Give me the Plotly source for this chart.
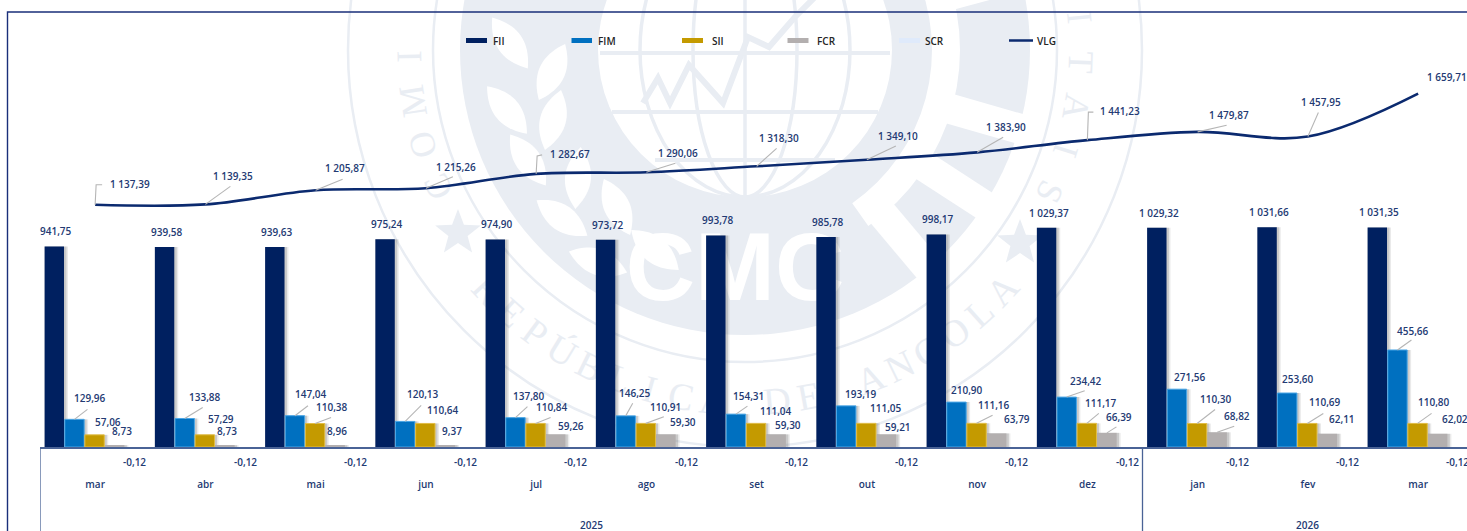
import math
import plotly.graph_objects as go

# ---------- data ----------
months = ["mar", "abr", "mai", "jun", "jul", "ago", "set", "out", "nov", "dez", "jan", "fev", "mar"]
fii = [941.75, 939.58, 939.63, 975.24, 974.90, 973.72, 993.78, 985.78, 998.17, 1029.37, 1029.32, 1031.66, 1031.35]
fim = [129.96, 133.88, 147.04, 120.13, 137.80, 146.25, 154.31, 193.19, 210.90, 234.42, 271.56, 253.60, 455.66]
sii = [57.06, 57.29, 110.38, 110.64, 110.84, 110.91, 111.04, 111.05, 111.16, 111.17, 110.30, 110.69, 110.80]
fcr = [8.73, 8.73, 8.96, 9.37, 59.26, 59.30, 59.30, 59.21, 63.79, 66.39, 68.82, 62.11, 62.02]
scr = [-0.12] * 13
vlg = [1137.39, 1139.35, 1205.87, 1215.26, 1282.67, 1290.06, 1318.30, 1349.10, 1383.90, 1441.23, 1479.87, 1457.95, 1659.71]
years = ["2025", "2026"]

# ---------- style ----------
NAVY, BLUE, GOLD, GREY, PALE = "#002060", "#0070c0", "#c49a00", "#b3afaf", "#dfeafb"
LINE = "#0b2a6f"
TXT = "#233a73"
WM = "#e9edf3"
FONT = "Open Sans, Noto Sans, sans-serif"
W, H = 1467, 531
L, T, B = 40, 12, 84
PX_PER_CAT = 110.25
x_range = [-0.5, (W - L) / PX_PER_CAT - 0.5]
y_range = [0, 2043]

PITCH, BAR_W = 0.1825, 0.176
offsets = [-0.458 + PITCH * k for k in range(5)]

# label offsets (px right, px up) from the mark; leader end or None
fii_lab = [(2, 15)] * 13
fim_lab = [(15.6, 21.6), (20.7, 21), (15.8, 21.7), (18, 27), (13.6, 21.7), (9, 23), (13, 18),
           (14.5, 12), (11, 12), (19.7, 16.4), (12.8, 12), (10.9, 14), (16, 19)]
fim_lead = [(13, 10), (18, 11), (13, 10), (16, 16), (12, 11), (7, 12.6), (11.5, 8),
            None, None, (18, 6.4), None, None, (14, 10)]
sii_lab = [(13.5, 13.2), (16, 15.5), (17.4, 16.5), (17.8, 13), (16.5, 16), (20, 16), (19.7, 12.7),
           (20, 15), (17.5, 18.3), (14, 20.3), (19.4, 24.8), (17.5, 21), (16, 21)]
sii_lead = [None, None, (16, 6), None, (15, 6), (18, 6.7), None, None, (16, 8), (12, 10), (18, 14), (16, 10), (14, 10)]
fcr_lab = [(7.4, 14), (2, 14), (1.6, 14), (7, 14), (15.8, 8.4), (17, 12.7), (12, 9.4),
           (11.7, 7), (20.8, 14), (11.9, 16.2), (20, 16.3), (15, 14.5), (17, 14.5)]
fcr_lead = [None] * 9 + [(9.5, 6), (17, 6), None, None]
scr_lab = [(0, -15)] * 13
vlg_lab = [(35, 20.5), (27.5, 28.7), (29.5, 22), (30, 21.3), (34, 19.6), (32, 19), (22.5, 28.6),
           (31.5, 23.8), (28.7, 25), (32.7, 29), (31.8, 16.6), (13, 34.6), (28.7, 16.4)]
vlg_lead = [[(1, 20), (7, 20)], [(25, 18)], [(27, 11)], [(27, 11.6)], [(1, 18), (6, 19)], [(29, 9)], [(20, 18)],
            [(29, 13.8)], [(26, 15)], [(1, 28), (6, 28)], [(29, 6.6)], [(10.5, 24)], None]


def fmt(v):
    s = f"{abs(v):,.2f}".replace(",", " ").replace(".", ",")
    return ("-" if v < 0 else "") + s


def px(x):
    return (x - L) / (W - L)


def py(y):
    return (H - B - y) / (H - T - B)


xs = list(range(len(months)))
fig = go.Figure()

# bar shadows, then bars
series = [("FII", fii, NAVY, NAVY), ("FIM", fim, BLUE, "#4aa6e6"), ("SII", sii, GOLD, "#e2bd45"),
          ("FCR", fcr, GREY, GREY), ("SCR", scr, PALE, PALE)]
for grow, alpha in [(0.036, 0.13), (0.022, 0.22)]:
    for k, (name, vals, col, edge) in enumerate(series):
        fig.add_trace(go.Bar(x=xs, y=vals, width=BAR_W + grow, offset=offsets[k], showlegend=False,
                             marker=dict(color=f"rgba(90,90,90,{alpha})", line_width=0), hoverinfo="skip"))
for k, (name, vals, col, edge) in enumerate(series):
    fig.add_trace(go.Bar(x=xs, y=vals, width=BAR_W, offset=offsets[k], name=name,
                         marker=dict(color=col, line=dict(color=edge, width=1 if k in (1, 2) else 0))))
fig.add_trace(go.Scatter(x=xs, y=vlg, name="VLG", mode="lines",
                         line=dict(color=LINE, width=2.6, shape="spline", smoothing=1)))

annotations, shapes = [], []


def lab(i, off, val, d, lead):
    annotations.append(dict(x=i + off, y=max(val, 0), xref="x", yref="y", text=fmt(val), showarrow=False,
                            xshift=d[0], yshift=d[1], xanchor="center", yanchor="middle",
                            font=dict(family=FONT, size=10, color=TXT, weight=600)))
    if lead:
        pts = lead if isinstance(lead, list) else [lead]
        path = "M0,0" + "".join(f" L{a},{b}" for a, b in pts)
        shapes.append(dict(type="path", xref="x", yref="y", xsizemode="pixel", ysizemode="pixel",
                           xanchor=i + off, yanchor=val, path=path, layer="above",
                           line=dict(color="#b5b5b5", width=1.1)))


for k, (vals, labs, leads) in enumerate([(fii, fii_lab, [None] * 13), (fim, fim_lab, fim_lead),
                                         (sii, sii_lab, sii_lead), (fcr, fcr_lab, fcr_lead),
                                         (scr, scr_lab, [None] * 13)]):
    for i, v in enumerate(vals):
        lab(i, offsets[k] + BAR_W / 2, v, labs[i], leads[i])
for i, v in enumerate(vlg):
    lab(i, 0, v, vlg_lab[i], vlg_lead[i])

# year labels and separators
for xv, t in zip([4.5, 11], years):
    annotations.append(dict(x=xv, y=0, xref="x", yref="paper", text=t, showarrow=False, yshift=-78,
                            xanchor="center", yanchor="middle", font=dict(family=FONT, size=10, color=TXT, weight=600)))
for xv in [-0.5, 9.5]:
    shapes.append(dict(type="line", xref="x", yref="paper", x0=xv, x1=xv, y0=0, y1=-B / (H - T - B),
                       line=dict(color="#4a6396", width=1.3), layer="above"))

# custom legend
leg_items = [("FII", 466, 487, 491, NAVY), ("FIM", 571.5, 592, 596, BLUE), ("SII", 682, 703, 709.5, GOLD),
             ("FCR", 787.5, 808.5, 815, GREY), ("SCR", 899, 920, 923, PALE)]
for name, a, b, t, col in leg_items:
    shapes.append(dict(type="rect", xref="paper", yref="paper", x0=px(a), x1=px(b), y0=py(43), y1=py(38),
                       fillcolor=col, line_width=0, layer="above"))
    annotations.append(dict(x=px(t), y=py(40.5), xref="paper", yref="paper", text=name, showarrow=False,
                            xanchor="left", yanchor="middle", font=dict(family=FONT, size=10, color="#252525", weight=600)))
shapes.append(dict(type="line", xref="paper", yref="paper", x0=px(1009), x1=px(1033), y0=py(40.5), y1=py(40.5),
                   line=dict(color=LINE, width=2.5), layer="above"))
annotations.append(dict(x=px(1034.5), y=py(40.5), xref="paper", yref="paper", text="VLG", showarrow=False,
                        xanchor="left", yanchor="middle", font=dict(family=FONT, size=10, color="#252525", weight=600)))

# ---------- watermark ----------
CX, CY = 745, 50


def circle(r, fill=None, line=None, lw=0):
    shapes.append(dict(type="circle", xref="paper", yref="paper", layer="below",
                       x0=px(CX - r), x1=px(CX + r), y0=py(CY + r), y1=py(CY - r),
                       fillcolor=fill or "rgba(0,0,0,0)", line=dict(color=line or "rgba(0,0,0,0)", width=lw)))


def poly(pts, fill=None, line=None, lw=0, closed=True):
    d = "M" + " L".join(f"{px(a):.5f},{py(b):.5f}" for a, b in pts) + (" Z" if closed else "")
    shapes.append(dict(type="path", xref="paper", yref="paper", layer="below", path=d,
                       fillcolor=fill or "rgba(0,0,0,0)", line=dict(color=line or "rgba(0,0,0,0)", width=lw)))


def leaf(cx, cy, ln, wd, ang):
    a = math.radians(ang)
    pts = []
    for t in range(0, 21):
        u = -1 + t / 10
        pts.append((u * ln / 2, wd / 2 * (1 - u * u)))
    for t in range(0, 21):
        u = 1 - t / 10
        pts.append((u * ln / 2, -wd / 2 * (1 - u * u)))
    poly([(cx + p * math.cos(a) - q * math.sin(a), cy + p * math.sin(a) + q * math.cos(a)) for p, q in pts], fill="white")


def star(cx, cy, r):
    pts = []
    for n in range(10):
        rr = r if n % 2 == 0 else r * 0.42
        a = math.radians(-90 + 36 * n)
        pts.append((cx + rr * math.cos(a), cy + rr * math.sin(a)))
    poly(pts, fill=WM)


def letter(ch, ang_deg, r, size, top=True):
    a = math.radians(ang_deg)
    if top:
        x, y, rot = CX + r * math.sin(a), CY - r * math.cos(a), ang_deg
    else:
        x, y, rot = CX + r * math.sin(a), CY + r * math.cos(a), -ang_deg
    if y < 14 or ch == " ":
        return
    shapes.append(dict(type="rect", xref="paper", yref="paper", layer="below",
                       x0=px(x - 15), x1=px(x + 15), y0=py(y + 15), y1=py(y - 15),
                       line_width=0, fillcolor="rgba(0,0,0,0)",
                       label=dict(text=ch, textangle=rot, textposition="middle center",
                                  font=dict(family="Liberation Serif, serif", size=size, color=WM))))


circle(397, line=WM, lw=2.5)
circle(312, line=WM, lw=2.5)
circle(285, fill=WM)
# white gap of the gear on the right half
gap = []
for n in range(0, 29):
    a = math.radians(-85 + n * 5)
    gap.append((CX + 215 * math.cos(a), CY + 215 * math.sin(a)))
for n in range(28, -1, -1):
    a = math.radians(-85 + n * 5)
    gap.append((CX + 187 * math.cos(a), CY + 187 * math.sin(a)))
poly(gap, fill="white")
# gear notches
for deg in [-15, 16, 33, 50]:
    a = math.radians(deg)
    u, v = math.cos(a), math.sin(a)
    r0, r1, hw = 205, 292, 15
    poly([(CX + r0 * u - hw * v, CY + r0 * v + hw * u), (CX + r1 * u - hw * v, CY + r1 * v + hw * u),
          (CX + r1 * u + hw * v, CY + r1 * v - hw * u), (CX + r0 * u + hw * v, CY + r0 * v - hw * u)], fill="white")
# laurel leaves
for cx, cy, ang in [(510, 43, 55), (552, 72, 115), (507, 110, 50), (553, 120, 105), (528, 160, 55),
                    (578, 178, 95), (562, 218, 35), (617, 207, 65), (598, 262, 20), (655, 250, 40)]:
    leaf(cx, cy, 62, 26, ang)
circle(147, fill="white")
# globe lines
for rx in [52, 105]:
    shapes.append(dict(type="circle", xref="paper", yref="paper", layer="below",
                       x0=px(CX - rx), x1=px(CX + rx), y0=py(CY + 147), y1=py(CY - 147),
                       line=dict(color=WM, width=3.5)))
poly([(CX, -100), (CX, CY + 147)], line=WM, lw=3.5, closed=False)
for yy, hw in [(53, 145), (112, 133), (160, 90)]:
    poly([(CX - hw, yy), (CX + hw, yy)], line=WM, lw=4, closed=False)
poly([(643, 103), (658, 78), (670, 103), (689, 65), (723, 103), (748, 37), (769, 47), (795, 17), (815, -3)],
     line=WM, lw=6, closed=False)
star(458, 233, 24)
star(1020, 243, 24)
word = "REPÚBLICA DE ANGOLA"
for n, ch in enumerate(word):
    letter(ch, -47 + n * 94 / (len(word) - 1), 348, 38, top=False)
word2 = "COMISSÃO DO MERCADO DE CAPITAIS"
for n, ch in enumerate(word2):
    letter(ch, -114 + n * 229 / (len(word2) - 1), 340, 36, top=True)
shapes.append(dict(type="rect", xref="paper", yref="paper", layer="below",
                   x0=px(640), x1=px(830), y0=py(305), y1=py(210), line_width=0, fillcolor="rgba(0,0,0,0)",
                   label=dict(text="CMC", textposition="middle center",
                              font=dict(family="Liberation Sans Narrow, Liberation Sans, sans-serif", size=96,
                                        color="white", weight=700))))
# page frame
shapes.append(dict(type="path", xref="paper", yref="paper", layer="above",
                   path=f"M{px(7.5)},{py(531)} L{px(7.5)},{py(12)} L{px(1467)},{py(12)}",
                   line=dict(color="#1a2f7a", width=1.4)))

fig.update_layout(
    width=W, height=H, margin=dict(l=L, r=0, t=T, b=B, pad=0), barmode="overlay", showlegend=False,
    paper_bgcolor="white", plot_bgcolor="rgba(0,0,0,0)",
    xaxis=dict(range=x_range, tickmode="array", tickvals=xs, ticktext=months, showgrid=False, zeroline=False,
               ticks="", ticklabelstandoff=27, showline=True, linecolor="#4a6396", linewidth=1.5,
               tickfont=dict(family=FONT, size=10, color=TXT, weight=600)),
    yaxis=dict(range=y_range, visible=False, showgrid=False, zeroline=False),
    annotations=annotations, shapes=shapes,
)

fig.write_html("out.html", config={"displayModeBar": False},
               post_script="document.body.style.margin='0';document.body.style.overflow='hidden';")
